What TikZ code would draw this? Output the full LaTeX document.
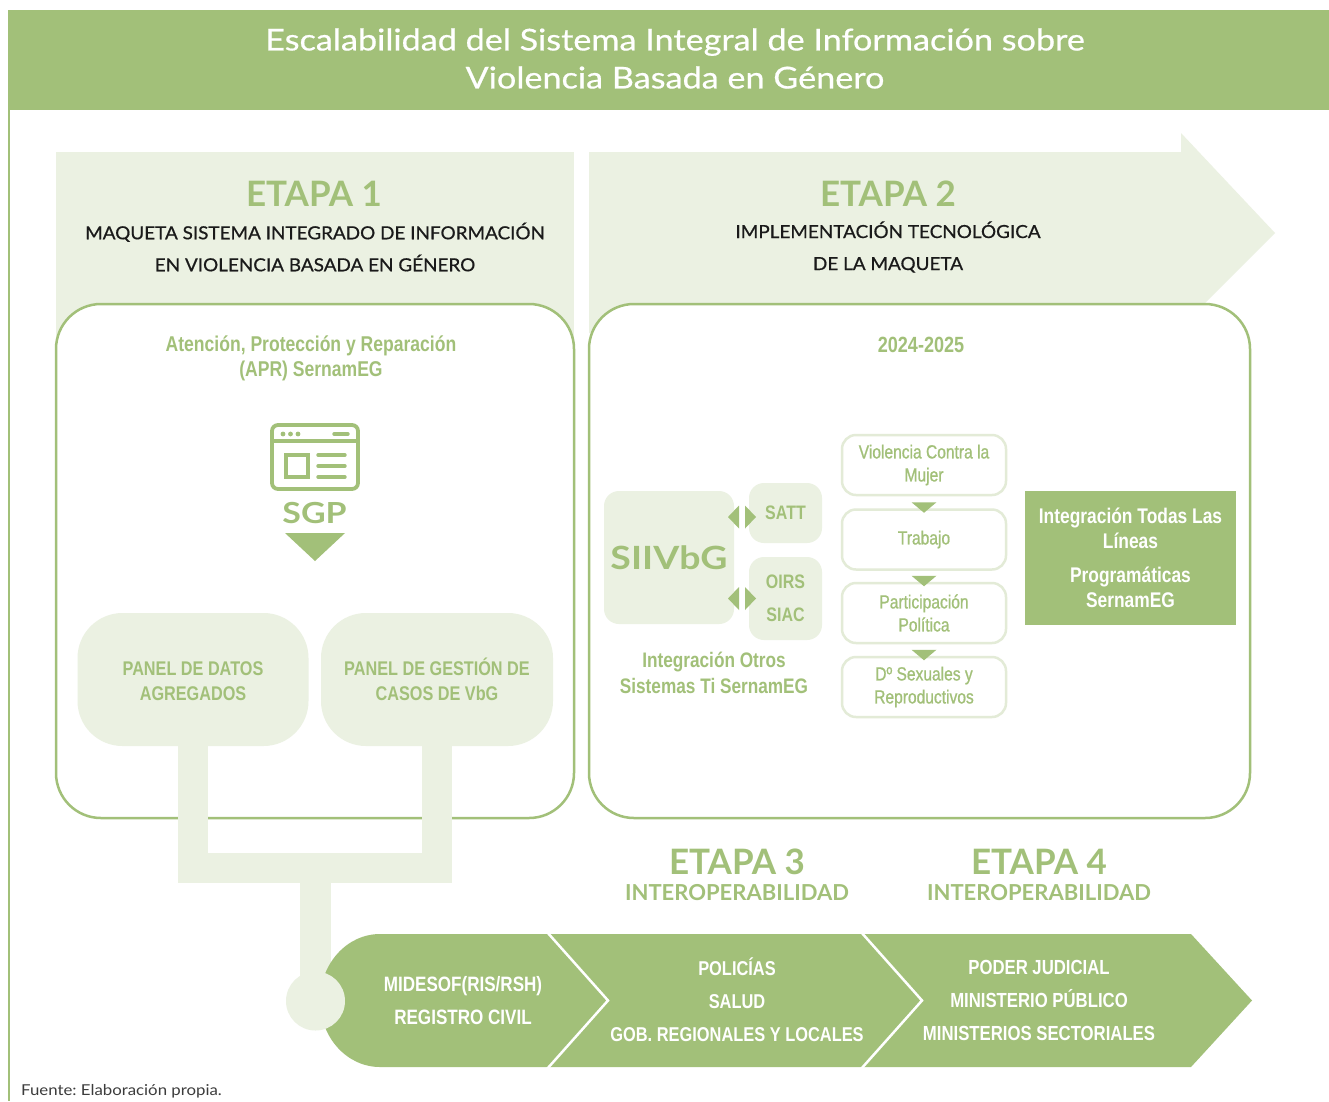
\documentclass[tikz,border=0pt]{standalone}
\usepackage{fontspec}
\setmainfont{Lato}
\newfontfamily\cond[FakeStretch=0.82]{Liberation Sans}
\newfontfamily\condm[FakeStretch=0.82, FakeBold=0.9]{Liberation Sans}
\newfontfamily\widefont[FakeStretch=1.14, FakeBold=0.6]{Lato}
\newfontfamily\medfont[FakeStretch=1.05, FakeBold=0.7]{Lato}
\newfontfamily\srcfont[FakeStretch=1.12]{Lato}
\newfontfamily\wideb[FakeStretch=1.17]{Lato}
\usetikzlibrary{calc}
\definecolor{gr}{HTML}{A2C079}
\definecolor{lgr}{HTML}{EBF1E2}
\definecolor{lline}{HTML}{E3EBD7}
\definecolor{ink}{HTML}{1A1A1A}
\newcommand\myfs[2]{\fontsize{#1}{#2}\selectfont}
\frenchspacing
\begin{document}
\begin{tikzpicture}[x=1pt,y=-1pt,
  stagebox/.style={draw=gr, line width=2.5pt, fill=white, rounded corners=45pt, inner sep=0pt},
  etapa/.style={text=gr, font=\bfseries\myfs{35}{35}, inner sep=0pt},
  subt/.style={text=ink, font=\medfont\myfs{18}{32}, align=center, inner sep=0pt},
  condg/.style={text=gr, align=center, inner sep=0pt},
  panelbox/.style={fill=lgr, rounded corners=45pt, text=gr, font=\cond\bfseries\myfs{19.8}{25}, align=center, inner sep=0pt},
  barline/.style={draw=lgr, line width=30.5pt},
  bandtxt/.style={text=white, font=\cond\bfseries\myfs{20}{33}, align=center, inner sep=0pt},
  interop/.style={text=gr, font=\bfseries\myfs{22}{22}, inner sep=0pt},
  lbox/.style={fill=lgr, rounded corners=15pt, text=gr, font=\cond\bfseries\myfs{19.5}{33}, align=center, inner sep=0pt},
  lineb/.style={draw=lline, line width=2.5pt, fill=white, rounded corners=14pt, minimum width=164pt, minimum height=60pt, text=gr, font=\condm\myfs{19}{23}, align=center, inner sep=0pt},
  icon/.style={draw=gr, line width=3.8pt},
]
\useasboundingbox (0,0) rectangle (1329,1101);
\fill[white] (0,0) rectangle (1329,1101);
% header
\fill[gr] (8,10) rectangle (1329,110);
\node[text=white, font=\widefont\myfs{30}{38}, align=center, inner sep=0pt] (title) at (675,58.5) {Escalabilidad del Sistema Integral de Información sobre\\Violencia Basada en Género};
% left border
\draw[gr, line width=2pt] (8.5,110) -- (8.5,1101);
% light headers
\fill[lgr] (56,152) rectangle (574,340);
\fill[lgr] (589,152) -- (1181,152) -- (1181,133) -- (1275,233) -- (1175,333) -- (589,333) -- cycle;
\node[etapa] (e1) at (314,194) {ETAPA 1};
\node[subt] (s1) at (315,247) {MAQUETA SISTEMA INTEGRADO DE INFORMACIÓN\\EN VIOLENCIA BASADA EN GÉNERO};
\node[etapa] (e2) at (888,194) {ETAPA 2};
\node[subt] (s2) at (888,247) {IMPLEMENTACIÓN TECNOLÓGICA\\DE LA MAQUETA};
% stage boxes
\node[stagebox, minimum width=518pt, minimum height=514pt] (box1) at (315,561) {};
\node[stagebox, minimum width=661pt, minimum height=514pt] (box2) at (919.5,561) {};
% stage 1 content
\node[condg, font=\cond\bfseries\myfs{21.4}{25}] (apr) at (311,358) {Atención, Protección y Reparación\\(APR) SernamEG};
\draw[icon, rounded corners=6pt] (272,425) rectangle (358,489);
\draw[icon] (272,441) -- (358,441);
\fill[gr] (283,434) circle (2.4) (290.5,434) circle (2.4) (298,434) circle (2.4);
\draw[icon, line cap=round, line width=3.4pt] (334,434) -- (348,434);
\draw[icon, line width=3.5pt] (286,455) rectangle (308,477);
\draw[icon, line cap=round, line width=3.4pt] (318,455) -- (345,455) (318,466) -- (345,466) (318,477) -- (345,477);
\node[text=gr, font=\wideb\bfseries\myfs{29}{29}, inner sep=0pt] (sgp) at (314.5,513) {SGP};
\fill[gr] (285,533) -- (345,533) -- (315,561) -- cycle;
\node[panelbox, minimum width=231pt, minimum height=133pt] (pA) at (193,679.5) {\strut PANEL DE DATOS\\AGREGADOS};
\node[panelbox, minimum width=232pt, minimum height=133pt] (pB) at (437,679.5) {\strut PANEL DE GESTIÓN DE\\CASOS DE VbG};
% connectors
\coordinate (jL) at (193,868);
\coordinate (jR) at (437,868);
\coordinate (jM) at (315.5,868);
\coordinate (dotc) at (315.5,1001);
\draw[barline] (pA.south) -- (jL) -- (jR) -- (pB.south);
\draw[barline] (jM) -- (dotc);
% bottom band
\fill[gr] (380,934) -- (1191,934) -- (1252,1000.5) -- (1191,1067) -- (380,1067) arc[start angle=90, end angle=270, x radius=60, y radius=66.5] -- cycle;
\draw[white, line width=2.5pt] (547,932) -- (608,1000.5) -- (547,1069);
\draw[white, line width=2.5pt] (861,932) -- (922,1000.5) -- (861,1069);
\node[circle, fill=lgr, minimum size=59pt, inner sep=0pt] (dot) at (dotc) {};
\node[bandtxt, font=\cond\bfseries\myfs{20.8}{33}] (seg1) at (463,1001) {MIDESOF(RIS/RSH)\\REGISTRO CIVIL};
\node[bandtxt] (seg2) at (737,999.5) {POLICÍAS\\SALUD\\GOB. REGIONALES Y LOCALES};
\node[bandtxt, font=\cond\bfseries\myfs{20.4}{33}] (seg3) at (1039,1000.5) {PODER JUDICIAL\\MINISTERIO PÚBLICO\\MINISTERIOS SECTORIALES};
\node[etapa] (e3) at (737,862) {ETAPA 3};
\node[interop] (i3) at (737,893) {INTEROPERABILIDAD};
\node[etapa] (e4) at (1039,862) {ETAPA 4};
\node[interop] (i4) at (1039,893) {INTEROPERABILIDAD};
% stage 2 content
\node[condg, font=\cond\bfseries\myfs{22}{22}] (yr) at (921,345) {2024-2025};
\node[lbox, minimum width=130pt, minimum height=133pt, font=\wideb\bfseries\myfs{32}{32}] (siivbg) at (669,557.5) {SIIVbG};
\node[lbox, minimum width=73pt, minimum height=60pt] (satt) at (785.5,513) {SATT};
\node[lbox, minimum width=73pt, minimum height=83pt] (oirs) at (785.5,598.5) {OIRS\\SIAC};
\fill[gr] (728,517) -- (739,505.5) -- (739,528.5) -- cycle;
\fill[gr] (756,517) -- (745,505.5) -- (745,528.5) -- cycle;
\fill[gr] (728,598.5) -- (739,587) -- (739,610) -- cycle;
\fill[gr] (756,598.5) -- (745,587) -- (745,610) -- cycle;
\node[condg, font=\cond\bfseries\myfs{21}{26}] (iot) at (714,673) {Integración Otros\\Sistemas Ti SernamEG};
\node[lineb] (b1) at (924,465) {Violencia Contra la\\Mujer};
\node[lineb] (b2) at (924,539.5) {Trabajo};
\node[lineb] (b3) at (924,613) {Participación\\Política};
\node[lineb] (b4) at (924,687) {Dº Sexuales y\\Reproductivos};
\foreach \nb in {b2,b3,b4}{
  \fill[gr] ($(\nb.north)+(-12.5,-6)$) -- ++(25,0) -- ($(\nb.north)+(0,4.5)$) -- cycle;
}
\node[fill=gr, minimum width=211pt, minimum height=134pt, text=white, font=\cond\bfseries\myfs{21.2}{25}, align=center, inner sep=0pt] (itl) at (1130.5,558) {Integración Todas Las\\Líneas\\[9pt]Programáticas\\SernamEG};
% source
\node[anchor=west, text=ink!85, font=\srcfont\myfs{15}{15}, inner sep=0pt] (src) at (21,1091) {Fuente: Elaboración propia.};
\end{tikzpicture}
\end{document}
